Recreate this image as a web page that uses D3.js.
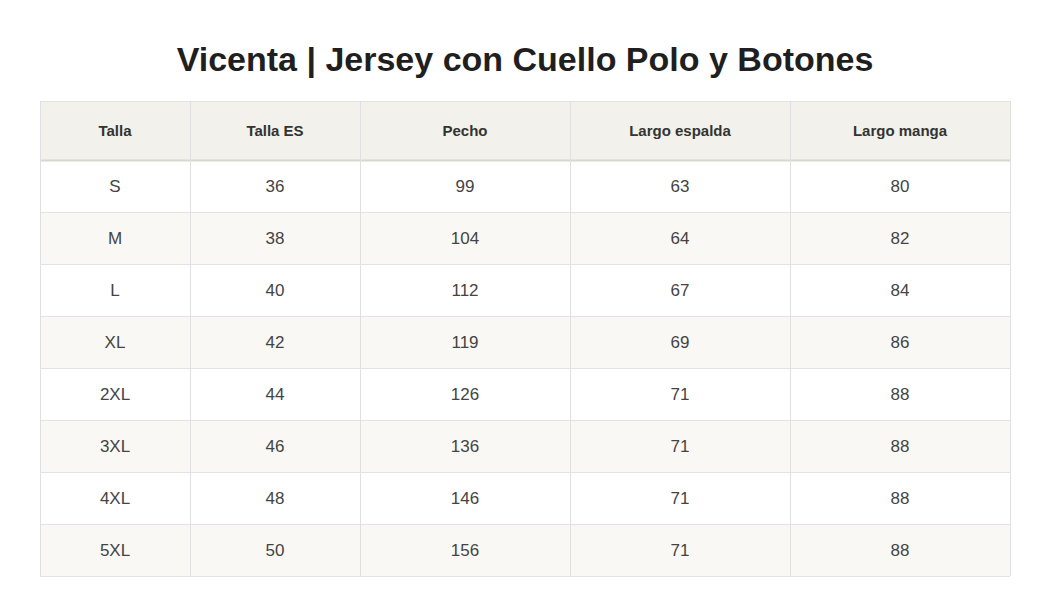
<!DOCTYPE html>
<html><head><meta charset="utf-8">
<script src="https://d3js.org/d3.v7.min.js"></script>
<style>body{margin:0;background:#fff}</style></head>
<body><svg id="c" width="1050" height="616"></svg>
<script>
const title = "Vicenta | Jersey con Cuello Polo y Botones";
const headers = ["Talla","Talla ES","Pecho","Largo espalda","Largo manga"];
const tallas = ["S","M","L","XL","2XL","3XL","4XL","5XL"];
const tallaES = [36,38,40,42,44,46,48,50];
const pecho = [99,104,112,119,126,136,146,156];
const largoEspalda = [63,64,67,69,71,71,71,71];
const largoManga = [80,82,84,86,88,88,88,88];

const rows = tallas.map((t,i)=>[t,tallaES[i],pecho[i],largoEspalda[i],largoManga[i]]);
const colEdges = [40,190,360,570,790,1010];
const svg = d3.select("#c");
const font = "Liberation Sans, Arial, sans-serif";
svg.append("text").attr("x",525).attr("y",71).attr("text-anchor","middle")
  .attr("font-family",font).attr("font-weight","bold").attr("font-size",34).attr("fill","#1f1f1f").text(title);
const y = d3.scaleBand().domain(d3.range(rows.length)).range([160,576]);
const tableTop=101, headH=59;
svg.append("rect").attr("x",40).attr("y",tableTop).attr("width",970).attr("height",headH).attr("fill","#f2f1ec");
svg.selectAll(".rb").data(rows).join("rect").attr("x",40).attr("y",(d,i)=>y(i)).attr("width",970)
  .attr("height",y.bandwidth()).attr("fill",(d,i)=>i%2?"#f9f8f4":"#ffffff");
const hl=[tableTop,160,...rows.map((d,i)=>y(i)+y.bandwidth())];
svg.selectAll(".hl").data(hl).join("line").attr("x1",40).attr("x2",1010).attr("y1",d=>d+0.5).attr("y2",d=>d+0.5)
  .attr("stroke",(d,i)=>i===1?"#d8d6cf":"#e3e3e3").attr("stroke-width",(d,i)=>i===1?2:1);
svg.selectAll(".vl").data(colEdges).join("line").attr("y1",tableTop).attr("y2",576).attr("x1",d=>d+0.5).attr("x2",d=>d+0.5)
  .attr("stroke","#e0e0e0");
const cx=i=>(colEdges[i]+colEdges[i+1])/2;
svg.selectAll(".h").data(headers).join("text").attr("x",(d,i)=>cx(i)).attr("y",tableTop+headH/2+5)
  .attr("text-anchor","middle").attr("font-family",font).attr("font-weight","bold").attr("font-size",15).attr("fill","#333").text(d=>d);
rows.forEach((r,ri)=>{
  svg.selectAll(".c"+ri).data(r).join("text").attr("x",(d,i)=>cx(i)).attr("y",y(ri)+y.bandwidth()/2+6)
    .attr("text-anchor","middle").attr("font-family",font).attr("font-size",17).attr("fill","#444").text(d=>d);
});
</script></body></html>
